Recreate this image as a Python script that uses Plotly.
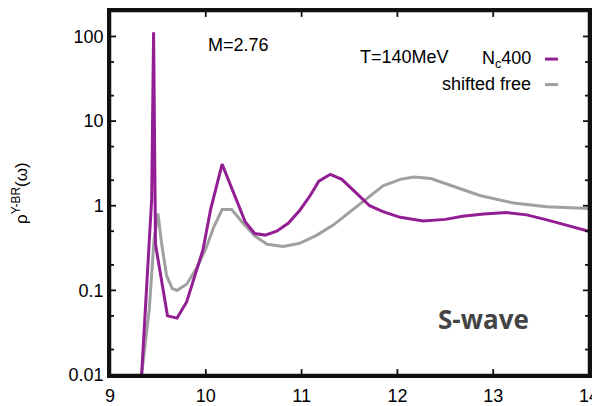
import plotly.graph_objects as go
import numpy as np

# Nc400 curve (omega, rho)
nc_x = [9.33, 9.435, 9.455, 9.475, 9.6, 9.7, 9.8, 9.89, 9.97, 10.05, 10.17, 10.41, 10.51,
        10.62, 10.74, 10.86, 10.98, 11.09, 11.18, 11.30, 11.42, 11.58, 11.71, 11.85,
        12.03, 12.27, 12.5, 12.68, 12.9, 13.14, 13.35, 13.56, 13.8, 14.0]
nc_y = [0.01, 1.2, 112, 0.35, 0.05, 0.047, 0.073, 0.156, 0.3, 0.9, 3.1, 0.65, 0.47,
        0.45, 0.50, 0.62, 0.88, 1.32, 1.95, 2.35, 2.05, 1.38, 1.0, 0.85,
        0.73, 0.66, 0.69, 0.75, 0.80, 0.83, 0.78, 0.68, 0.57, 0.50]

# shifted free curve
sf_x = [9.33, 9.41, 9.46, 9.50, 9.54, 9.59, 9.65, 9.70, 9.80, 9.90, 10.0, 10.08, 10.17,
        10.27, 10.39, 10.51, 10.64, 10.81, 10.98, 11.16, 11.33, 11.51, 11.68, 11.85,
        12.03, 12.17, 12.35, 12.52, 12.86, 13.21, 13.56, 14.0]
sf_y = [0.01, 0.06, 0.4, 0.81, 0.35, 0.15, 0.105, 0.1, 0.118, 0.18, 0.31, 0.55, 0.9,
        0.9, 0.62, 0.44, 0.35, 0.33, 0.36, 0.45, 0.59, 0.85, 1.2, 1.72,
        2.05, 2.19, 2.1, 1.8, 1.32, 1.08, 0.97, 0.93]

x_ticks = [9, 10, 11, 12, 13, 14]
y_ticks = [0.01, 0.1, 1, 10, 100]
y_tick_labels = ["0.01", "0.1", "1", "10", "100"]
y_minor = [v * m for v in [0.01, 0.1, 1, 10, 100] for m in (2, 5)]

PURPLE = "#931e94"
GRAY = "#a0a0a0"
FRAME = "#111111"
FONT = "Liberation Sans, Arial, sans-serif"
X_RANGE = [9, 14]
Y_RANGE = [-2, float(np.log10(200))]
PLOT_W, PLOT_H = 479, 371  # plot area in px

fig = go.Figure()
fig.add_trace(go.Scatter(x=sf_x, y=sf_y, mode="lines", line=dict(color=GRAY, width=3), showlegend=False))
fig.add_trace(go.Scatter(x=nc_x, y=nc_y, mode="lines", line=dict(color=PURPLE, width=3), showlegend=False))

# page body has an 8px margin: figure placed at (8, 8) in the 600x406 window
fig.update_layout(
    width=592, height=398,
    margin=dict(l=102, r=11, t=0, b=27),
    paper_bgcolor="white", plot_bgcolor="white",
    font=dict(family=FONT, size=18, color="black"),
    showlegend=False,
    xaxis=dict(
        range=X_RANGE, tickvals=x_ticks, ticks="", showline=True, mirror=True,
        linecolor=FRAME, linewidth=2.5, showgrid=False,
        zeroline=False, tickfont=dict(size=18), ticklabelstandoff=3,
    ),
    yaxis=dict(
        type="log", range=Y_RANGE, tickvals=y_ticks, ticktext=y_tick_labels,
        ticks="", showline=True, mirror=True, linecolor=FRAME, linewidth=2.5,
        showgrid=False, zeroline=False, tickfont=dict(size=18),
    ),
)

# frame
fig.add_shape(type="rect", xref="paper", yref="paper", x0=0, x1=1, y0=0, y1=1,
              line=dict(color=FRAME, width=2.5), layer="above")

def xfrac(v):
    return (v - X_RANGE[0]) / (X_RANGE[1] - X_RANGE[0])

def yfrac(v):
    return (np.log10(v) - Y_RANGE[0]) / (Y_RANGE[1] - Y_RANGE[0])

tick_line = dict(color=FRAME, width=1.8)
# x ticks (bottom and mirrored top)
for v in x_ticks[1:-1]:
    f = xfrac(v)
    fig.add_shape(type="line", xref="paper", yref="paper", x0=f, x1=f, y0=0, y1=6 / PLOT_H, line=tick_line)
    fig.add_shape(type="line", xref="paper", yref="paper", x0=f, x1=f, y0=1, y1=1 - 6 / PLOT_H, line=tick_line)
# y major and minor ticks (left and mirrored right)
for vals, ln in ((y_ticks, 6), (y_minor, 4)):
    for v in vals:
        f = yfrac(v)
        if f <= 0.001 or f >= 0.999:
            continue
        fig.add_shape(type="line", xref="paper", yref="paper", x0=0, x1=ln / PLOT_W, y0=f, y1=f, line=tick_line)
        fig.add_shape(type="line", xref="paper", yref="paper", x0=1, x1=1 - ln / PLOT_W, y0=f, y1=f, line=tick_line)

# y-axis title
fig.add_annotation(text="ρ<sup>Y-BR</sup>(ω)", xref="paper", yref="paper", x=0, y=0.5,
                   xanchor="center", yanchor="middle", xshift=-90, textangle=-90,
                   showarrow=False, font=dict(size=17))

fig.add_annotation(text="M=2.76", xref="paper", yref="paper", x=(206 - 110) / 479, y=(379 - 43) / 371,
                   xanchor="left", yanchor="middle", showarrow=False, font=dict(size=18))
fig.add_annotation(text="T=140MeV", xref="paper", yref="paper", x=(358 - 110) / 479, y=(379 - 55) / 371,
                   xanchor="left", yanchor="middle", showarrow=False, font=dict(size=18))
fig.add_annotation(text="N<sub>c</sub>400", xref="paper", yref="paper", x=(533 - 110) / 479, y=(379 - 57) / 371,
                   xanchor="right", yanchor="middle", showarrow=False, font=dict(size=18))
fig.add_annotation(text="shifted free", xref="paper", yref="paper", x=(533 - 110) / 479, y=(379 - 82) / 371,
                   xanchor="right", yanchor="middle", showarrow=False, font=dict(size=18))
fig.add_shape(type="line", xref="paper", yref="paper", x0=(545 - 110) / 479, x1=(558 - 110) / 479,
              y0=(379 - 57) / 371, y1=(379 - 57) / 371, line=dict(color=PURPLE, width=3))
fig.add_shape(type="line", xref="paper", yref="paper", x0=(545 - 110) / 479, x1=(558 - 110) / 479,
              y0=(379 - 83) / 371, y1=(379 - 83) / 371, line=dict(color=GRAY, width=3))

fig.add_annotation(text="<b>S-wave</b>", xref="paper", yref="paper", x=(483 - 110) / 479, y=(379 - 322) / 371,
                   xanchor="center", yanchor="middle", showarrow=False,
                   font=dict(size=26, color="#444444", family="Open Sans, Noto Sans, sans-serif"))

fig.write_html("out.html")
